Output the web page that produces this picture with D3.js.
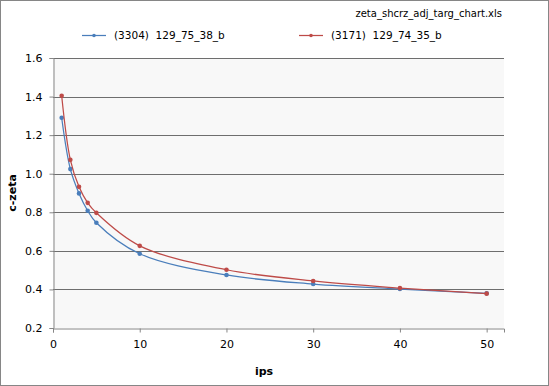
<!DOCTYPE html>
<html lang="en">
<head>
<meta charset="UTF-8">
<title>zeta chart</title>
<script src="https://cdn.jsdelivr.net/npm/d3@7"></script>
<style>
  body { margin: 0; background: #fff; }
  text { font-family: "DejaVu Sans", Verdana, sans-serif; fill: #000; white-space: pre; }
</style>
</head>
<body>
<div id="chart"></div>
<script>
// data
const ips = [1, 2, 3, 4, 5, 10, 20, 30, 40, 50];
const zeta3304 = [1.29, 1.024, 0.898, 0.808, 0.746, 0.585, 0.475, 0.428, 0.402, 0.380];
const zeta3171 = [1.404, 1.072, 0.932, 0.849, 0.797, 0.626, 0.502, 0.444, 0.407, 0.378];
const seriesNames = ["(3304)  129_75_38_b", "(3171)  129_74_35_b"];
const seriesColors = ["#4a7ebb", "#be4b48"];
const xTicks = [0, 10, 20, 30, 40, 50];
const yTicks = [0.2, 0.4, 0.6, 0.8, 1.0, 1.2, 1.4, 1.6];

const W = 549, H = 386;
const plot = {left: 53, right: 504, top: 58, bottom: 328};

const svg = d3.select("#chart").append("svg")
  .attr("width", W).attr("height", H);

// outer border
svg.append("rect")
  .attr("x", 0.5).attr("y", 0.5)
  .attr("width", W - 1).attr("height", H - 1)
  .attr("fill", "#fff").attr("stroke", "#868686");

const x = d3.scaleLinear().domain([0, 52]).range([plot.left, plot.right]);
const y = d3.scaleLinear().domain([0.2, 1.6]).range([plot.bottom, plot.top]);

// plot area
svg.append("rect")
  .attr("x", plot.left).attr("y", plot.top)
  .attr("width", plot.right - plot.left).attr("height", plot.bottom - plot.top)
  .attr("fill", "#f8f8f8");

// gridlines
svg.append("g").selectAll("line")
  .data(yTicks.slice(1))
  .join("line")
    .attr("x1", plot.left).attr("x2", plot.right)
    .attr("y1", d => Math.round(y(d)) + 0.5)
    .attr("y2", d => Math.round(y(d)) + 0.5)
    .attr("stroke", "#6e6e6e");

// y axis
const yAxis = svg.append("g")
  .attr("transform", `translate(${plot.left + 0.5},0)`)
  .call(d3.axisLeft(y).tickValues(yTicks).tickFormat(d3.format(".1f")).tickSizeOuter(0).tickSize(4).tickPadding(7));
yAxis.select(".domain").attr("stroke", "#868686");
yAxis.selectAll(".tick line").attr("stroke", "#868686");
yAxis.selectAll("text").style("font-size", "11px");

// x axis
const xAxis = svg.append("g")
  .attr("transform", `translate(0,${plot.bottom + 0.5})`)
  .call(d3.axisBottom(x).tickValues(xTicks).tickSizeOuter(0).tickSize(4).tickPadding(8));
xAxis.select(".domain").attr("stroke", "#868686");
xAxis.selectAll(".tick line").attr("stroke", "#868686");
xAxis.selectAll("text").style("font-size", "11px");

// axis titles
svg.append("text")
  .attr("x", 264).attr("y", 375)
  .attr("text-anchor", "middle")
  .style("font-size", "11px").style("font-weight", "bold")
  .text("ips");
svg.append("text")
  .attr("transform", "translate(16,193) rotate(-90)")
  .attr("text-anchor", "middle")
  .style("font-size", "11px").style("font-weight", "bold")
  .text("c-zeta");

// title
svg.append("text")
  .attr("x", 502).attr("y", 17)
  .attr("text-anchor", "end")
  .style("font-size", "10px")
  .text("zeta_shcrz_adj_targ_chart.xls");

// series
const allSeries = [zeta3304, zeta3171];
const line = d3.line()
  .x((d, i) => x(ips[i]))
  .y(d => y(d))
  .curve(d3.curveCatmullRom.alpha(0.5));

allSeries.forEach((vals, k) => {
  svg.append("path")
    .datum(vals)
    .attr("d", line)
    .attr("fill", "none")
    .attr("stroke", seriesColors[k])
    .attr("stroke-width", 1.25);
  svg.append("g").selectAll("circle")
    .data(vals)
    .join("circle")
      .attr("cx", (d, i) => x(ips[i]))
      .attr("cy", d => y(d))
      .attr("r", 2.3)
      .attr("fill", seriesColors[k]);
});

// legend
const legendX = [82, 299];
seriesNames.forEach((name, k) => {
  const g = svg.append("g").attr("transform", `translate(${legendX[k]},35)`);
  g.append("line")
    .attr("x1", 0).attr("x2", 24).attr("y1", 0.5).attr("y2", 0.5)
    .attr("stroke", seriesColors[k]).attr("stroke-width", 1.25);
  g.append("circle").attr("cx", 12).attr("cy", 0.5).attr("r", 1.8)
    .attr("fill", seriesColors[k]);
  g.append("text").attr("x", 32).attr("y", 4)
    .attr("xml:space", "preserve")
    .style("font-size", "10.5px")
    .text(name);
});
</script>
</body>
</html>
